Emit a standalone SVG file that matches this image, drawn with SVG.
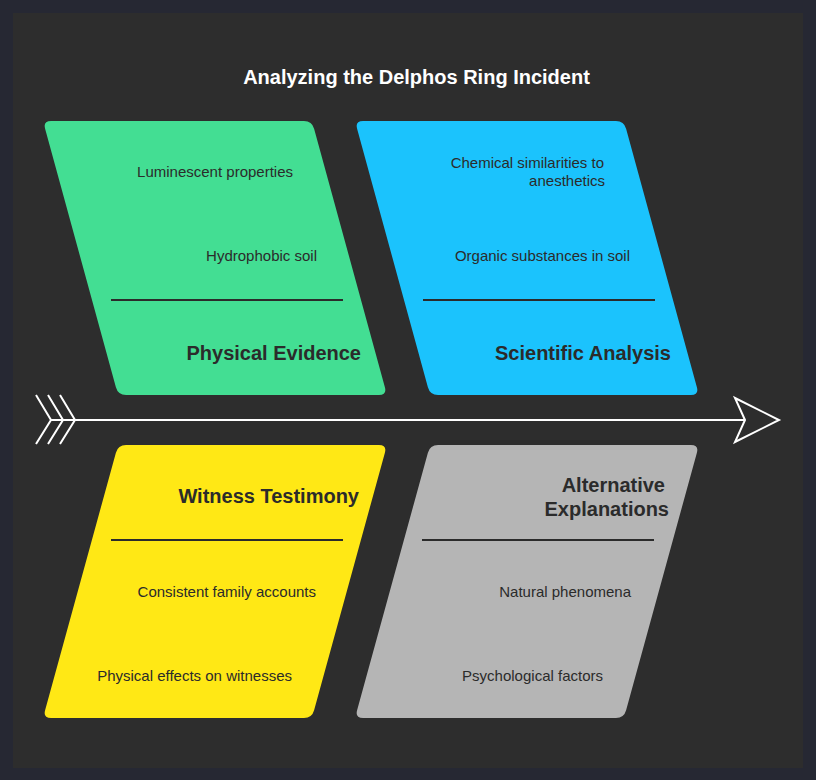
<svg xmlns="http://www.w3.org/2000/svg" width="816" height="780" viewBox="0 0 816 780">
<style>
.item{font-family:"Liberation Sans",Arial,sans-serif;font-size:15px;fill:#2b2b2b;text-anchor:end}
.head{font-family:"Liberation Sans",Arial,sans-serif;font-size:20px;font-weight:bold;fill:#2b2b2b;text-anchor:end}
.div{stroke:#2b2b2b;stroke-width:2}
.spine{stroke:#ffffff;stroke-width:2;fill:none;stroke-linejoin:miter}
</style>
<defs>
<path id="up" d="M8,0 L261,0 Q269,0 271.1,7.7 L341.9,266.3 Q344,274 336,274 L83,274 Q75,274 72.9,266.3 L2.1,7.7 Q0,0 8,0 Z"/>
<path id="down" d="M83,0 L336,0 Q344,0 341.9,7.7 L271.1,265.3 Q269,273 261,273 L8,273 Q0,273 2.1,265.3 L72.9,7.7 Q75,0 83,0 Z"/>
</defs>
<rect x="0" y="0" width="816" height="780" fill="#262833"/>
<rect x="13" y="13" width="790" height="755" fill="#2d2d2d"/>
<text x="416.5" y="84" font-family="Liberation Sans, Arial, sans-serif" font-size="20" font-weight="bold" fill="#ffffff" text-anchor="middle">Analyzing the Delphos Ring Incident</text>
<g id="connectors">
<line class="spine" x1="51" y1="420" x2="745" y2="420"/>
<polyline class="spine" points="36,395 51,420 36,444"/>
<polyline class="spine" points="48,395 63,420 48,444"/>
<polyline class="spine" points="60,395 75,420 60,444"/>
<polygon class="spine" points="735,398 779,420 735,442 745,420"/>
</g>
<g id="physical-evidence">
<use href="#up" transform="translate(43,121)" fill="#43de93"/>
<line class="div" x1="111" y1="300" x2="343" y2="300"/>
<text class="item" x="293" y="177">Luminescent properties</text>
<text class="item" x="317" y="261">Hydrophobic soil</text>
<text class="head" x="361" y="360">Physical Evidence</text>
</g>
<g id="scientific-analysis">
<use href="#up" transform="translate(355,121)" fill="#1bc3fd"/>
<line class="div" x1="423" y1="300" x2="655" y2="300"/>
<text class="item" x="604" y="168">Chemical similarities to</text>
<text class="item" x="605" y="186">anesthetics</text>
<text class="item" x="630" y="261">Organic substances in soil</text>
<text class="head" x="671" y="360">Scientific Analysis</text>
</g>
<g id="witness-testimony">
<use href="#down" transform="translate(43,445)" fill="#ffe815"/>
<line class="div" x1="111" y1="540" x2="343" y2="540"/>
<text class="head" x="359" y="503">Witness Testimony</text>
<text class="item" x="316" y="597">Consistent family accounts</text>
<text class="item" x="292" y="681">Physical effects on witnesses</text>
</g>
<g id="alternative-explanations">
<use href="#down" transform="translate(355,445)" fill="#b5b5b5"/>
<line class="div" x1="422" y1="540" x2="654" y2="540"/>
<text class="head" x="665" y="492">Alternative</text>
<text class="head" x="669" y="516">Explanations</text>
<text class="item" x="631" y="597">Natural phenomena</text>
<text class="item" x="603" y="681">Psychological factors</text>
</g>
</svg>
